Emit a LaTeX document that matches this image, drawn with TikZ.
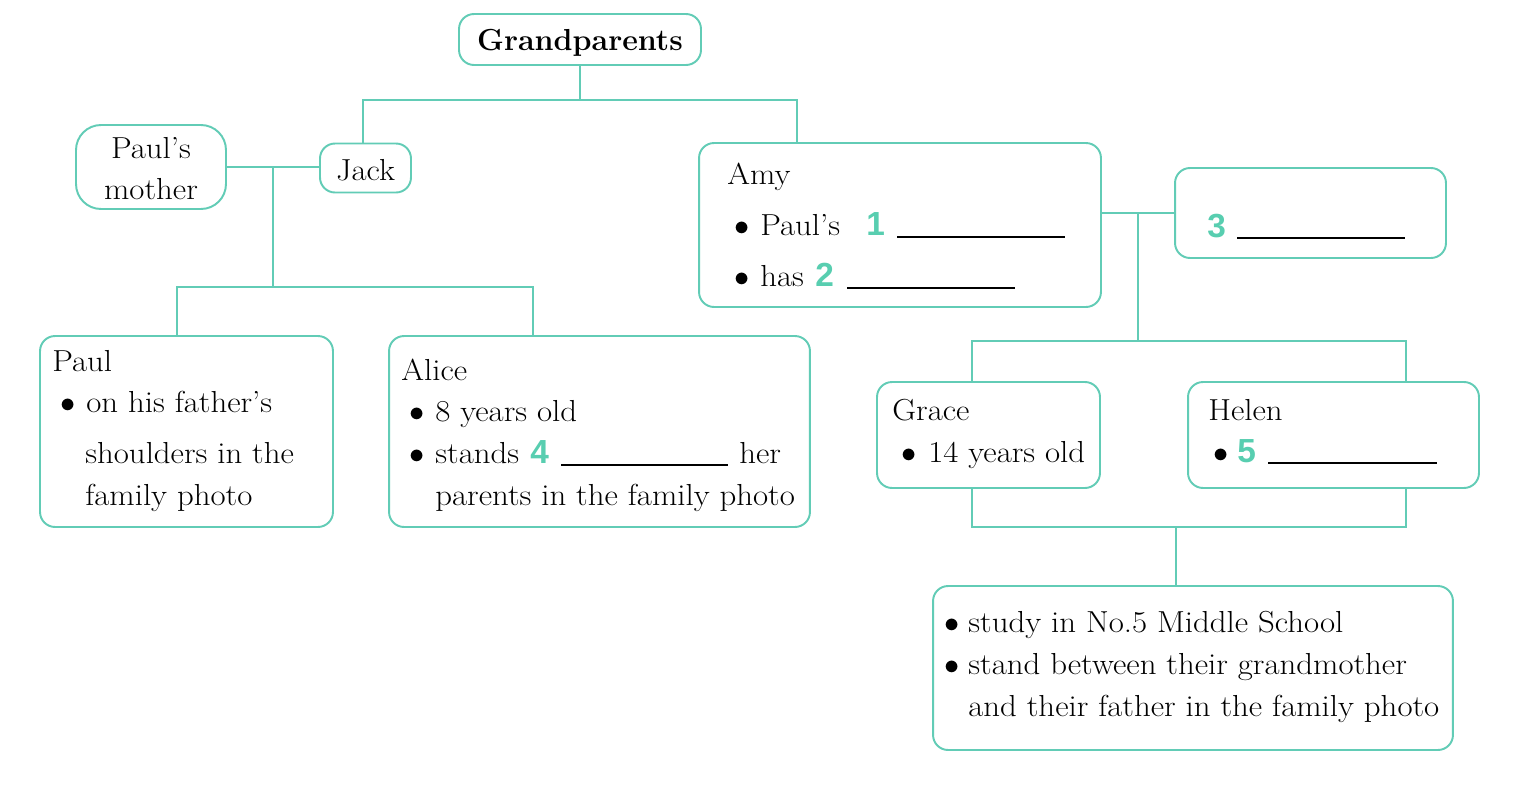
\documentclass[tikz,border=0pt]{standalone}
\usepackage{fontspec}
\newfontfamily\numfont{Liberation Sans}
\newfontfamily\bodyfont{Latin Modern Roman}[FakeStretch=1.08]
\definecolor{lc}{RGB}{98,204,182}
\definecolor{nc}{RGB}{88,206,176}
\newcommand\tnum[1]{{\numfont\bfseries\fontsize{19}{20}\selectfont\color{nc}#1}}
\begin{document}
\begin{tikzpicture}[x=0.02cm,y=-0.02cm,
  font=\bodyfont\fontsize{17.3}{21}\selectfont,
  box/.style={draw=lc,line width=1.1pt,rounded corners=0.3cm,inner sep=0pt},
  conn/.style={draw=lc,line width=1.1pt},
  txt/.style={anchor=base west,inner sep=0pt},
  ctxt/.style={anchor=base,inner sep=0pt},
  blank/.style={line width=1.2pt,black}]
\useasboundingbox[fill=white] (0,0) rectangle (1539,785);
% boxes
\node[box,minimum width=4.84cm,minimum height=1.02cm] (gp) at (580,39.5) {};
\node[box,minimum width=1.82cm,minimum height=0.98cm] (jack) at (365.5,168) {};
\node[box,minimum width=3.0cm,minimum height=1.68cm,rounded corners=0.5cm] (pm) at (151,167) {};
\node[box,minimum width=5.86cm,minimum height=3.82cm] (paul) at (186.5,431.5) {};
\node[box,minimum width=8.42cm,minimum height=3.82cm] (alice) at (599.5,431.5) {};
\node[box,minimum width=8.04cm,minimum height=3.28cm] (amy) at (900,225) {};
\node[box,minimum width=5.42cm,minimum height=1.80cm] (b3) at (1310.5,213) {};
\node[box,minimum width=4.46cm,minimum height=2.12cm] (grace) at (988.5,435) {};
\node[box,minimum width=5.82cm,minimum height=2.12cm] (helen) at (1333.5,435) {};
\node[box,minimum width=10.4cm,minimum height=3.28cm] (bot) at (1193,668) {};
% connectors
\coordinate (j1) at (363,100);
\coordinate (a1) at (797,100);
\draw[conn] (gp.south) -- (gp.south |- j1);
\draw[conn] (j1 |- jack.north) -- (j1) -- (a1) -- (a1 |- amy.north);
\draw[conn] (pm.east) -- (pm.east -| jack.west);
\coordinate (k) at (273,287);
\coordinate (p1) at (177,287);
\coordinate (al1) at (533,287);
\draw[conn] (k |- pm.east) -- (k);
\draw[conn] (p1 |- paul.north) -- (p1) -- (al1) -- (al1 |- alice.north);
\draw[conn] (b3.west) -- (b3.west -| amy.east);
\coordinate (m) at (1138,341);
\coordinate (g1) at (972,341);
\coordinate (h1) at (1406,341);
\draw[conn] (m |- b3.west) -- (m);
\draw[conn] (g1 |- grace.north) -- (g1) -- (h1) -- (h1 |- helen.north);
\coordinate (g2) at (972,527);
\coordinate (h2) at (1406,527);
\coordinate (s) at (1176,527);
\draw[conn] (g2 |- grace.south) -- (g2) -- (h2) -- (h2 |- helen.south);
\draw[conn] (s) -- (s |- bot.north);
% texts
\node[ctxt,font=\normalfont\fontsize{17.3}{21}\selectfont\bfseries] (tgp) at (580,50) {Grandparents};
\node[ctxt] (tpm1) at (151,158) {Paul’s};
\node[ctxt] (tpm2) at (151,199) {mother};
\node[ctxt] (tjack) at (365.5,180) {Jack};
% Paul
\node[txt] (tp0) at (52,371) {Paul};
\node[txt] (tpb1) at (60,412) {$\bullet$};
\node[txt] (tp1) at (86,412) {on his father’s};
\node[txt] (tp2) at (85,463) {shoulders in the};
\node[txt] (tp3) at (85,505) {family photo};
% Alice
\node[txt] (ta0) at (401,380) {Alice};
\node[txt] (tab1) at (409,421) {$\bullet$};
\node[txt] (ta1) at (435,421) {8 years old};
\node[txt] (tab2) at (409,463) {$\bullet$};
\node[txt] (ta2) at (435,463) {stands};
\node[txt] (tn4) at (530,463) {\tnum{4}};
\draw[blank] (561,465) -- (728,465);
\node[txt] (ta3) at (739,463) {her};
\node[txt] (ta4) at (435,505) {parents in the family photo};
% Amy
\node[txt] (tm0) at (727,184) {Amy};
\node[txt] (tmb1) at (734,235) {$\bullet$};
\node[txt] (tm1) at (760,235) {Paul’s};
\node[txt] (tn1) at (866,235) {\tnum{1}};
\draw[blank] (897,237) -- (1065,237);
\node[txt] (tmb2) at (734,286) {$\bullet$};
\node[txt] (tm2) at (760,286) {has};
\node[txt] (tn2) at (815,286) {\tnum{2}};
\draw[blank] (847,288) -- (1015,288);
% box 3
\node[txt] (tn3) at (1207,237) {\tnum{3}};
\draw[blank] (1237,238) -- (1405,238);
% Grace
\node[txt] (tg0) at (892,420) {Grace};
\node[txt] (tgb) at (901,462) {$\bullet$};
\node[txt] (tg1) at (928,462) {14 years old};
% Helen
\node[txt] (th0) at (1208,420) {Helen};
\node[txt] (thb) at (1213,462) {$\bullet$};
\node[txt] (tn5) at (1237,462) {\tnum{5}};
\draw[blank] (1268,463) -- (1437,463);
% bottom
\node[txt] (tbb1) at (944,632) {$\bullet$};
\node[txt] (tb1) at (968,632) {study in No.5 Middle School};
\node[txt] (tbb2) at (944,674) {$\bullet$};
\node[txt] (tb2) at (968,674) {stand between their grandmother};
\node[txt] (tb3) at (968,716) {and their father in the family photo};
\end{tikzpicture}
\end{document}
